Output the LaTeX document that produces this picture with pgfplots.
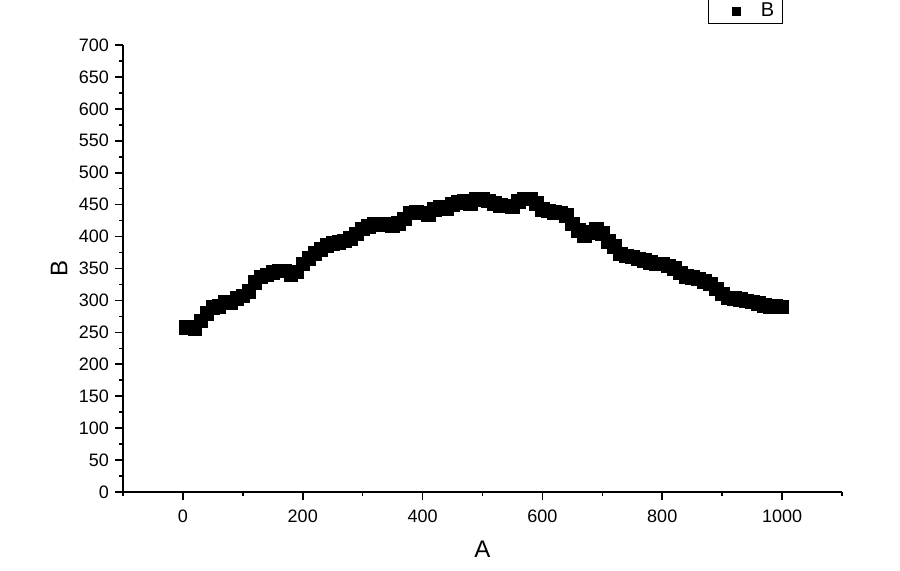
\documentclass[border=0pt]{standalone}
\usepackage{fontspec}
\setmainfont{Liberation Sans}
\usepackage{pgfplots}
\pgfplotsset{compat=1.18}
\begin{document}
\begin{tikzpicture}
\useasboundingbox (-61.5pt,-39pt) rectangle (388.5pt,246pt);
\begin{axis}[
    at={(0,0)}, anchor=south west,
    scale only axis, width=359.5pt, height=223.5pt,
    xmin=-100, xmax=1100, ymin=0, ymax=700,
    axis x line*=bottom, axis y line*=left,
    xtick={0,200,...,1000},
    minor xtick={-100,100,...,1100},
    ytick={0,50,...,700},
    minor ytick={25,75,...,675},
    tick align=outside,
    major tick length=4pt, minor tick length=2pt,
    tick style={black, line width=0.8pt},
    axis line style={line width=0.8pt},
    /pgf/number format/assume math mode=true,
    /pgf/number format/1000 sep={},
    ticklabel style={font=\fontsize{9}{10}\selectfont},
    xticklabel style={yshift=-1.5pt},
    yticklabel style={xshift=0.5pt},
    xlabel={A}, ylabel={B},
    label style={font=\fontsize{12}{14}\selectfont},
    xlabel style={at={(axis description cs:0.5,0)}, anchor=center, yshift=-28.5pt},
    ylabel style={at={(axis description cs:0,0.5)}, anchor=center, yshift=32pt},
    legend style={at={(0.9175,1.047)}, anchor=south east, draw=black,
        line width=0.5pt, inner xsep=2pt, inner ysep=0.5pt,
        nodes={inner ysep=1.5pt},
        font=\fontsize{10}{11}\selectfont},
    legend image code/.code={
        \path[draw=none] (0pt,-3pt) rectangle (22pt,3pt);
        \node[draw=none, fill=black, minimum size=4.5pt, inner sep=0pt] at (12pt,0pt) {};},
]
\addplot[only marks, mark=square*, mark size=3.4pt, color=black] coordinates {
(5,258)(10,258)(20,256)(30,268)(40,280)(50,289)(60,291)(70,297)(80,296)(90,303)
(100,307)(110,314)(120,328)(130,337)(140,340)(150,344)(160,346)(170,346)(180,341)(190,345)
(200,357)(210,366)(220,374)(230,380)(240,386)(250,389)(260,391)(270,393)(280,397)(290,404)
(300,412)(310,416)(320,419)(330,418)(340,419)(350,417)(360,421)(370,428)(380,437)(390,438)
(400,437)(410,435)(420,443)(430,446)(440,444)(450,450)(460,454)(470,455)(480,452)(490,458)
(500,458)(510,456)(520,452)(530,449)(540,448)(550,447)(560,455)(570,459)(580,459)(590,452)
(600,443)(610,440)(620,438)(630,437)(640,433)(650,420)(660,410)(670,402)(680,407)(690,412)
(700,405)(710,392)(720,385)(730,373)(740,370)(750,368)(760,365)(770,363)(780,360)(790,357)
(800,357)(810,354)(820,350)(830,343)(840,338)(850,336)(860,334)(870,330)(880,326)(890,318)
(900,310)(910,304)(920,303)(930,302)(940,299)(950,298)(960,295)(970,292)(980,290)(990,291)
(1000,290)
};
\addlegendentry{B}
\end{axis}
\end{tikzpicture}
\end{document}
